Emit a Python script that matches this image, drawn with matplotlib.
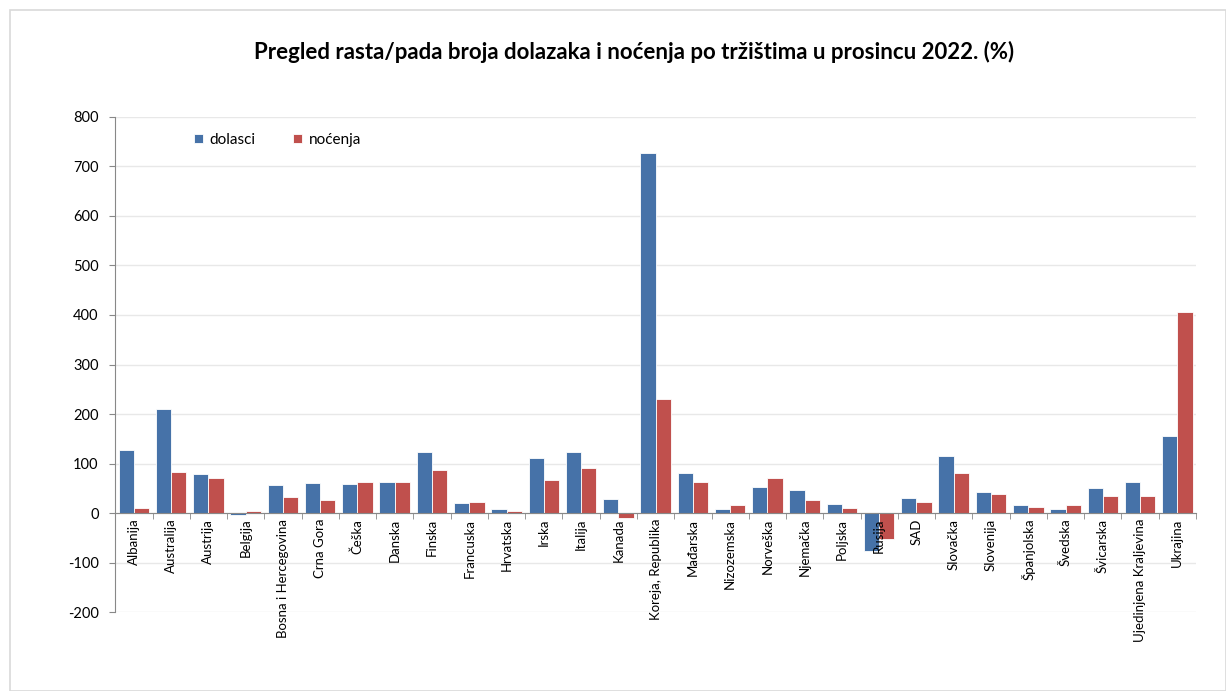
import matplotlib.pyplot as plt
import numpy as np
from matplotlib.patches import Rectangle

countries = ['Albanija', 'Australija', 'Austrija', 'Belgija', 'Bosna i Hercegovina',
             'Crna Gora', 'Češka', 'Danska', 'Finska', 'Francuska', 'Hrvatska', 'Irska',
             'Italija', 'Kanada', 'Koreja, Republika', 'Mađarska', 'Nizozemska', 'Norveška',
             'Njemačka', 'Poljska', 'Rusija', 'SAD', 'Slovačka', 'Slovenija', 'Španjolska',
             'Švedska', 'Švicarska', 'Ujedinjena Kraljevina', 'Ukrajina']
dolasci = [128, 211, 78, -3, 56, 60, 58, 62, 124, 21, 9, 112, 124, 29, 726, 82, 9, 52,
           47, 19, -76, 31, 116, 43, 17, 9, 51, 62, 155]
nocenja = [11, 84, 70, 4, 33, 27, 62, 62, 88, 23, 5, 66, 92, -10, 231, 62, 17, 70,
           27, 11, -52, 23, 82, 39, 13, 17, 35, 35, 405]

plt.rcParams['font.family'] = ['Lato', 'DejaVu Sans']
plt.rcParams['axes.unicode_minus'] = False

fig = plt.figure(figsize=(12.26, 6.91), dpi=100)
fig.patches.append(Rectangle((10/1226, 0), 1 - 10/1226, 1 - 10/691, transform=fig.transFigure,
                             fill=False, edgecolor='#d9d9d9', lw=1.2))
ax = fig.add_axes([0.094, 0.114, 0.8815, 0.717])

x = np.arange(len(countries))
w = 0.41
ax.bar(x - w/2, dolasci, w, color='#4672a8', edgecolor='white', lw=0.6, label='dolasci', zorder=3)
ax.bar(x + w/2, nocenja, w, color='#c0504d', edgecolor='white', lw=0.6, label='noćenja', zorder=3)

ax.set_ylim(-200, 800)
ax.set_yticks(range(-200, 801, 100))
ax.set_xlim(-0.5, len(countries) - 0.5)
ax.yaxis.grid(True, color='#e8e8e8', lw=1)
ax.set_axisbelow(True)
ax.xaxis.set_zorder(5)

for s in ['top', 'right']:
    ax.spines[s].set_visible(False)
ax.spines['left'].set_color('#888888')
ax.spines['bottom'].set_position(('data', 0))
ax.spines['bottom'].set_color('#888888')
ax.spines['bottom'].set_zorder(4)

ax.set_xticks(x)
ax.set_xticklabels(countries, rotation=90, fontsize=9.5, va='top')
ax.tick_params(axis='x', which='major', length=0, pad=4)
ax.set_xticks(np.arange(-0.5, len(countries), 1), minor=True)
ax.tick_params(axis='x', which='minor', length=4, color='#888888', direction='out')
ax.tick_params(axis='y', labelsize=10.5, length=4, color='#888888', pad=8)

ax.legend(loc='upper left', bbox_to_anchor=(0.06, 0.995), ncol=2, frameon=False,
          fontsize=11, handlelength=0.6, handleheight=0.6, columnspacing=2.5, handletextpad=0.4)

fig.text(0.517, 0.925, 'Pregled rasta/pada broja dolazaka i noćenja po tržištima u prosincu 2022. (%)',
         ha='center', va='center', fontsize=16, fontweight='bold')

fig.savefig('out.png', dpi=100)
